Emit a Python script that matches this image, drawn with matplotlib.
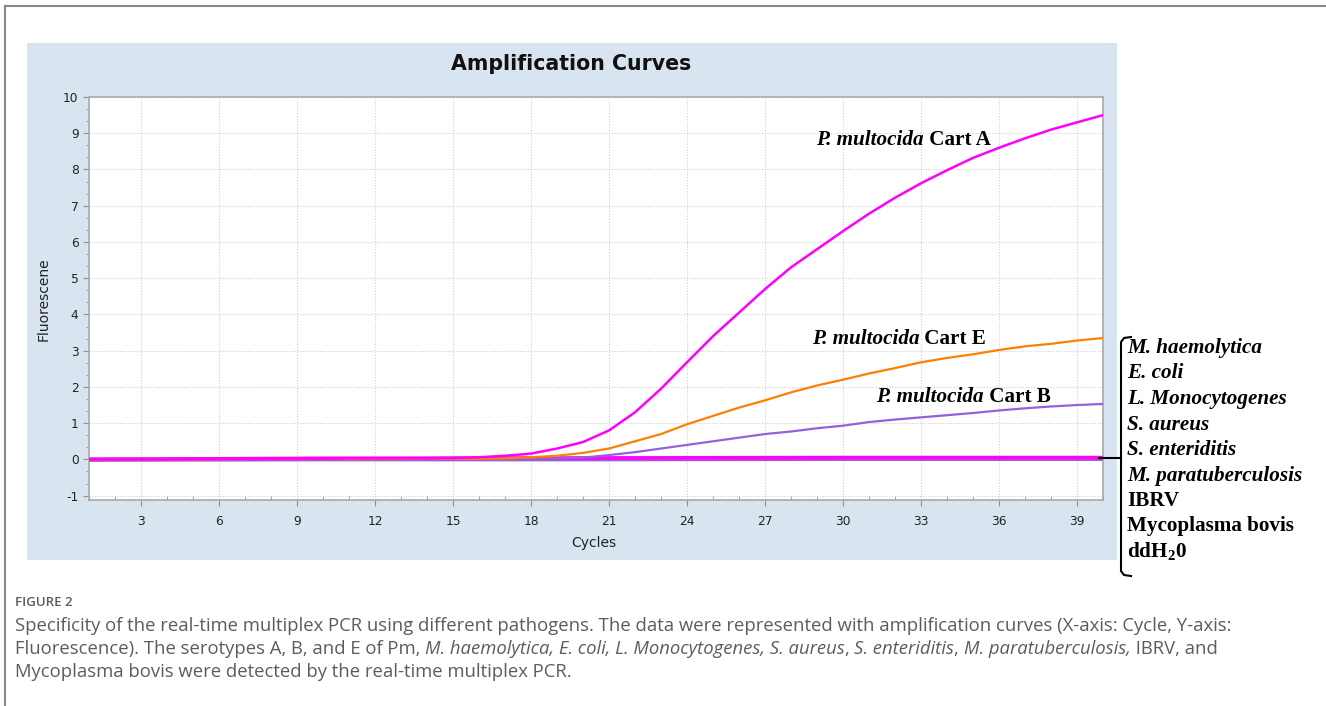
import numpy as np
import matplotlib.pyplot as plt
from matplotlib.lines import Line2D
from matplotlib.patches import Rectangle
from matplotlib.ticker import MultipleLocator

W, H = 1326, 706

cycles = list(range(1, 41))

cart_a = [0.0, 0.0, 0.0, 0.0, 0.01, 0.02, 0.02, 0.02, 0.02, 0.02,
          0.03, 0.03, 0.03, 0.03, 0.04, 0.06, 0.10, 0.16, 0.30, 0.48,
          0.80, 1.30, 1.95, 2.68, 3.40, 4.05, 4.70, 5.30, 5.80, 6.30,
          6.78, 7.22, 7.62, 7.98, 8.32, 8.60, 8.86, 9.10, 9.30, 9.50]
cart_e = [0.0, 0.0, 0.0, 0.0, 0.0, 0.01, 0.01, 0.01, 0.01, 0.01,
          0.01, 0.01, 0.01, 0.02, 0.02, 0.02, 0.03, 0.06, 0.10, 0.18,
          0.30, 0.50, 0.70, 0.97, 1.20, 1.43, 1.63, 1.85, 2.04, 2.20,
          2.37, 2.52, 2.68, 2.80, 2.90, 3.02, 3.12, 3.19, 3.28, 3.35]
cart_b = [0.0, 0.0, 0.0, 0.0, 0.0, 0.0, 0.0, 0.0, 0.0, 0.0,
          0.0, 0.0, 0.0, 0.0, 0.01, 0.01, 0.01, 0.02, 0.03, 0.05,
          0.12, 0.20, 0.30, 0.40, 0.50, 0.60, 0.70, 0.77, 0.86, 0.93,
          1.03, 1.10, 1.16, 1.22, 1.28, 1.35, 1.41, 1.46, 1.50, 1.53]

# negative controls, read at a few cycles
ctrl_cycles = [1, 10, 20, 30, 40]
ctrl_magenta = [0.0, 0.03, 0.04, 0.05, 0.05]
ctrl_purple = [0.0, 0.01, 0.01, 0.02, 0.02]
ctrl_violet = [-0.01, 0.0, 0.0, 0.01, 0.01]

negatives = ['M. haemolytica', 'E. coli', 'L. Monocytogenes', 'S. aureus',
             'S. enteriditis', 'M. paratuberculosis', 'IBRV',
             'Mycoplasma bovis', r'ddH$_\mathbf{2}$0']
negatives_italic = [True, True, True, True, True, True, False, False, False]

plt.rcParams['mathtext.fontset'] = 'custom'
plt.rcParams['mathtext.bf'] = 'Liberation Serif:bold'
plt.rcParams['mathtext.rm'] = 'Liberation Serif:bold'
plt.rcParams['axes.unicode_minus'] = False


def fx(x):
    return x / W


def fy(y):
    return 1 - y / H


fig = plt.figure(figsize=(W / 100, H / 100), dpi=100)

# outer frame (left and top)
fig.add_artist(Line2D([fx(5), fx(5)], [fy(6), 0], color='#8a8a8a', lw=1.5))
fig.add_artist(Line2D([fx(5), 1], [fy(6), fy(6)], color='#8a8a8a', lw=1.5))

# blue chart panel
fig.add_artist(Rectangle((fx(27), fy(560)), fx(1117) - fx(27), fy(43) - fy(560),
                         facecolor='#d9e4f1', edgecolor='none', zorder=0))

ax = fig.add_axes([fx(89), fy(500), fx(1103) - fx(89), fy(97) - fy(500)])
ax.set_facecolor('white')

for v in [ctrl_violet, ctrl_purple]:
    ax.plot(ctrl_cycles, v, color='#9a5fd0', lw=2.8, zorder=2)
ax.plot(ctrl_cycles, ctrl_magenta, color='#ff00ff', lw=2.6, zorder=3)

ax.plot(cycles, cart_b, color='#9461dc', lw=1.6, zorder=4)
ax.plot(cycles, cart_e, color='#ff8000', lw=1.6, zorder=4)
ax.plot(cycles, cart_a, color='#ff00ff', lw=1.8, zorder=5)

ax.set_xlim(1, 40)
ax.set_ylim(-1.12, 10)
ax.xaxis.set_major_locator(MultipleLocator(3))
ax.xaxis.set_minor_locator(MultipleLocator(1))
ax.yaxis.set_major_locator(MultipleLocator(1))
ax.yaxis.set_minor_locator(MultipleLocator(1 / 3))
ax.grid(True, which='major', ls=(0, (1, 1.5)), color='#cfcfcf', lw=0.8)
for s in ax.spines.values():
    s.set_color('#a8a8a8')
    s.set_linewidth(1.2)
ax.tick_params(which='major', length=4, color='#909090', labelsize=8.8,
               labelcolor='#222222')
ax.tick_params(axis='x', which='minor', direction='in', length=3, color='#909090')
ax.tick_params(axis='y', which='minor', length=2.5, color='#909090')
ax.tick_params(axis='x', pad=7)

fig.text(fx(571), fy(64), 'Amplification Curves', ha='center', va='center',
         fontsize=14.8, fontweight='bold', color='#111111')
fig.text(fx(44), fy(299), 'Fluorescene', ha='center', va='center',
         rotation=90, fontsize=10, color='#222222')
fig.text(fx(594), fy(543), 'Cycles', ha='center', va='center',
         fontsize=10, color='#222222')

fig.canvas.draw()
renderer = fig.canvas.get_renderer()


def chain(parts, x, y, transform, **kw):
    # draw text pieces one after the other on one baseline
    for s, style in parts:
        t = fig.text(x, y, s, transform=transform, va='center', ha='left', **style, **kw)
        bb = t.get_window_extent(renderer)
        x = transform.inverted().transform((bb.x1, bb.y0))[0]
    return x


serif = dict(family='Liberation Serif', fontsize=15.2, color='black')
bi = dict(fontweight='bold', fontstyle='italic')
b = dict(fontweight='bold')

labels = [('Cart A', 28.96, 8.81), ('Cart E', 28.8, 3.31), ('Cart B', 31.27, 1.71)]
for name, xx, yy in labels:
    chain([('P. multocida', bi), (' ' + name, b)], xx, yy, ax.transData, **serif)

for i, (name, it) in enumerate(zip(negatives, negatives_italic)):
    fig.text(fx(1127), fy(348 + i * 25.5), name, ha='left', va='center',
             fontstyle='italic' if it else 'normal', fontweight='bold', **serif)

# bracket
bk = dict(color='black', lw=1.5)
fig.add_artist(Line2D([fx(1131), fx(1124), fx(1121), fx(1121), fx(1124), fx(1131)],
                      [fy(337), fy(338), fy(342), fy(571), fy(575), fy(576)], **bk))
fig.add_artist(Line2D([fx(1099), fx(1121)], [fy(458), fy(458)], **bk))

cap = dict(family='Open Sans', fontsize=13.3, color='#5c5c5c')
fig.text(fx(15), fy(603), 'FIGURE 2', ha='left', va='center',
         family='Open Sans', fontsize=9.5, fontweight='semibold', color='#5c5c5c')
n = {}
it = dict(fontstyle='italic')
line1 = [('Specificity of the real-time multiplex PCR using different pathogens. The data '
          'were represented with amplification curves (X-axis: Cycle, Y-axis:', n)]
line2 = [('Fluorescence). The serotypes A, B, and E of Pm, ', n),
         ('M. haemolytica, E. coli, L. Monocytogenes, S. aureus', it), (', ', n),
         ('S. enteriditis', it), (', ', n), ('M. paratuberculosis,', it),
         (' IBRV, and', n)]
line3 = [('Mycoplasma bovis were detected by the real-time multiplex PCR.', n)]
for k, ln in enumerate([line1, line2, line3]):
    chain(ln, fx(15), fy(626 + 23 * k), fig.transFigure, **cap)

fig.savefig('out.png', dpi=100)
